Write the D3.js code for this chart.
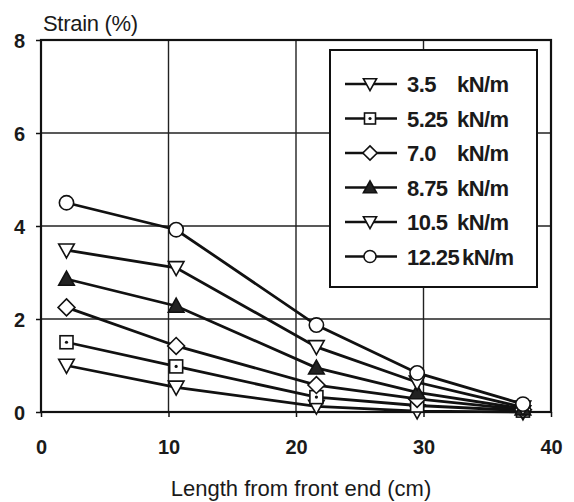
<!DOCTYPE html>
<html>
<head>
<meta charset="utf-8">
<script src="https://cdn.jsdelivr.net/npm/d3@7"></script>
<style>
    body { margin: 0; background: #fff; }
    text { font-family: "Liberation Sans", Arial, sans-serif; fill: #1a1a1a; }
</style>
</head>
<body>
<svg id="chart" width="574" height="502"></svg>
<script>
// data
const positions = [2, 10.6, 21.6, 29.5, 37.8];
const loads = ["3.5", "5.25", "7.0", "8.75", "10.5", "12.25"];
const symbols = ["triDown", "square", "diamond", "triUp", "triDown", "circle"];
const strain_3_5 = [1.0, 0.53, 0.12, 0.02, 0.0];
const strain_5_25 = [1.5, 0.98, 0.32, 0.14, 0.03];
const strain_7_0 = [2.25, 1.42, 0.58, 0.28, 0.05];
const strain_8_75 = [2.86, 2.28, 0.95, 0.42, 0.07];
const strain_10_5 = [3.48, 3.1, 1.4, 0.64, 0.1];
const strain_12_25 = [4.5, 3.92, 1.87, 0.84, 0.17];
const xTicks = [0, 10, 20, 30, 40];
const yTicks = [0, 2, 4, 6, 8];

const series = [strain_3_5, strain_5_25, strain_7_0, strain_8_75, strain_10_5, strain_12_25];

const svg = d3.select("#chart");
const plotLeft = 41, plotRight = 551, plotTop = 40, plotBottom = 412;

const x = d3.scaleLinear().domain([0, 40]).range([plotLeft, plotRight]);
const y = d3.scaleLinear().domain([0, 8]).range([plotBottom, plotTop]);

// grid
svg.append("g")
    .selectAll("line")
    .data(yTicks.filter(d => d > 0 && d < 8))
    .enter()
    .append("line")
    .attr("x1", plotLeft).attr("x2", plotRight)
    .attr("y1", d => y(d)).attr("y2", d => y(d))
    .attr("stroke", "#222").attr("stroke-width", 1.4);

svg.append("g")
    .selectAll("line")
    .data(xTicks.filter(d => d > 0 && d < 40))
    .enter()
    .append("line")
    .attr("y1", plotTop).attr("y2", plotBottom)
    .attr("x1", d => x(d)).attr("x2", d => x(d))
    .attr("stroke", "#222").attr("stroke-width", 1.4);

// frame
svg.append("rect")
    .attr("x", plotLeft).attr("y", plotTop)
    .attr("width", plotRight - plotLeft).attr("height", plotBottom - plotTop)
    .attr("fill", "none").attr("stroke", "#111").attr("stroke-width", 2.2);

// axes (ticks outward, labels bold)
const yAxis = svg.append("g")
    .attr("transform", "translate(" + plotLeft + ",0)")
    .call(d3.axisLeft(y).tickValues(yTicks).tickSize(5).tickPadding(11).tickFormat(d3.format("d")));
const xAxis = svg.append("g")
    .attr("transform", "translate(0," + plotBottom + ")")
    .call(d3.axisBottom(x).tickValues(xTicks).tickSize(5).tickPadding(23).tickFormat(d3.format("d")));
[yAxis, xAxis].forEach(a => {
    a.select(".domain").remove();
    a.selectAll("line").attr("stroke", "#111").attr("stroke-width", 1.5);
    a.selectAll("text")
        .attr("font-family", "'Liberation Sans', Arial, sans-serif")
        .attr("font-size", 20).attr("font-weight", "bold").attr("fill", "#1a1a1a");
});
yAxis.selectAll("text").attr("dy", "0.35em");

svg.append("text")
    .attr("x", 43).attr("y", 31)
    .attr("font-size", 22)
    .attr("letter-spacing", -0.3)
    .text("Strain (%)");

svg.append("text")
    .attr("x", 301).attr("y", 496)
    .attr("text-anchor", "middle")
    .attr("font-size", 22)
    .text("Length from front end (cm)");

// markers
const marker = (sel, kind, size) => {
    const s = size;
    if (kind === "circle") {
        sel.append("circle").attr("r", s * 0.55).attr("fill", "#fff").attr("stroke", "#111").attr("stroke-width", 1.6);
    } else if (kind === "square") {
        sel.append("rect").attr("x", -s / 2).attr("y", -s / 2).attr("width", s).attr("height", s)
            .attr("fill", "#fff").attr("stroke", "#111").attr("stroke-width", 1.6);
        sel.append("circle").attr("r", 1.6).attr("fill", "#111");
    } else if (kind === "diamond") {
        const h = s * 0.65;
        sel.append("path").attr("d", `M0,${-h}L${h},0L0,${h}L${-h},0Z`)
            .attr("fill", "#fff").attr("stroke", "#111").attr("stroke-width", 1.6);
    } else if (kind === "triUp") {
        const h = s * 0.6;
        sel.append("path").attr("d", `M0,${-h}L${h},${h * 0.8}L${-h},${h * 0.8}Z`)
            .attr("fill", "#222").attr("stroke", "#111").attr("stroke-width", 1.6);
    } else {
        const h = s * 0.6;
        sel.append("path").attr("d", `M0,${h}L${h},${-h * 0.8}L${-h},${-h * 0.8}Z`)
            .attr("fill", "#fff").attr("stroke", "#111").attr("stroke-width", 1.6);
    }
};

const line = d3.line().x((d, i) => x(positions[i])).y(d => y(d));

const plot = svg.append("g");
plot.selectAll("path.series")
    .data(series)
    .enter()
    .append("path")
    .attr("class", "series")
    .attr("d", line)
    .attr("fill", "none")
    .attr("stroke", "#111")
    .attr("stroke-width", 2.8);

series.forEach((vals, si) => {
    vals.forEach((v, i) => {
        const g = plot.append("g").attr("transform", "translate(" + x(positions[i]) + "," + y(v) + ")");
        marker(g, symbols[si], 13);
    });
});

// legend
const legend = svg.append("g");
legend.append("rect")
    .attr("x", 330).attr("y", 50).attr("width", 207).attr("height", 237)
    .attr("fill", "#fff").attr("stroke", "#111").attr("stroke-width", 2);

const rows = legend.selectAll("g.row")
    .data(loads)
    .enter()
    .append("g")
    .attr("class", "row")
    .attr("transform", (d, i) => "translate(0," + (84 + i * 34.5) + ")");

rows.append("line")
    .attr("x1", 345).attr("x2", 397)
    .attr("stroke", "#111").attr("stroke-width", 2.4);
rows.each(function (d, i) {
    const g = d3.select(this).append("g").attr("transform", "translate(370,0)");
    marker(g, symbols[i], 11);
});
rows.append("text")
    .attr("x", 407).attr("y", 8)
    .attr("font-size", 22).attr("font-weight", "bold").attr("letter-spacing", -0.6)
    .text(d => d);
rows.append("text")
    .attr("x", (d, i) => i === 5 ? 462 : 457).attr("y", 8)
    .attr("font-size", 22).attr("font-weight", "bold").attr("letter-spacing", -0.6)
    .text("kN/m");
</script>
</body>
</html>
